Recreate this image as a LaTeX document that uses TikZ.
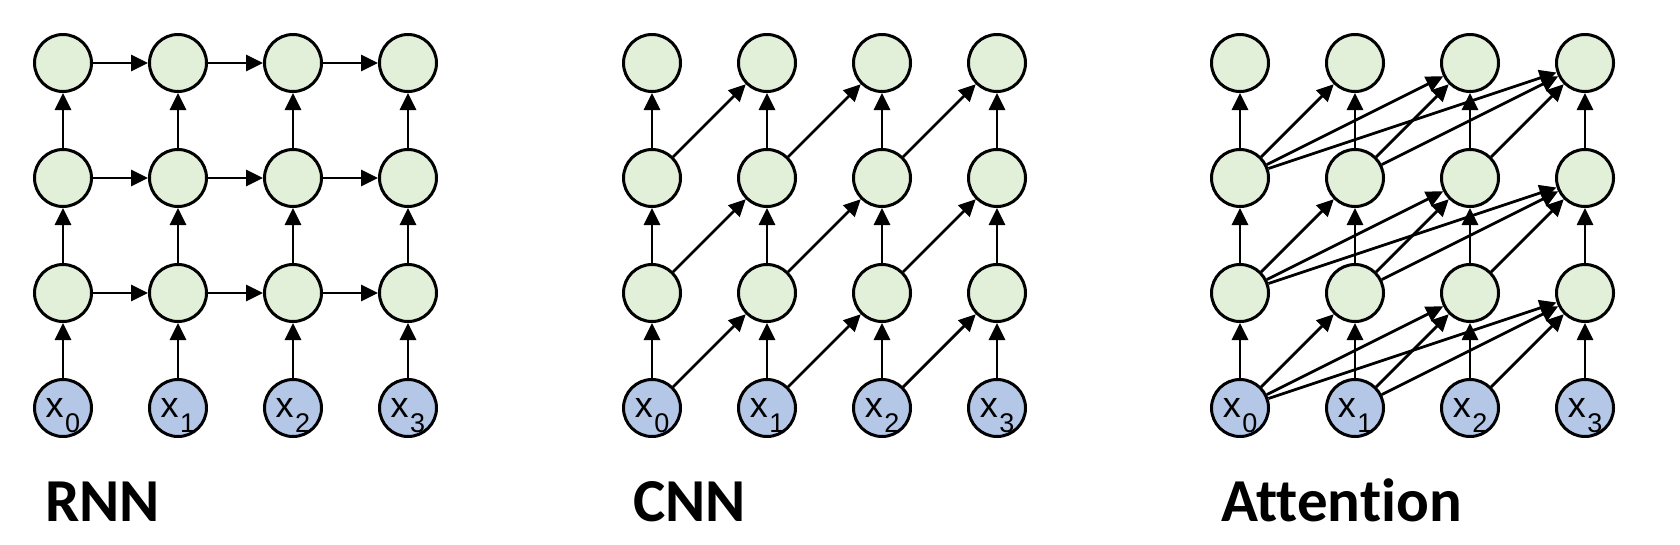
\documentclass[tikz,border=0pt]{standalone}
\usepackage{fontspec}
\setmainfont{Liberation Sans}
\newfontfamily\labfont[Ligatures=NoCommon]{Carlito}
\usetikzlibrary{arrows.meta}
\definecolor{hidfill}{RGB}{226,239,217}
\definecolor{inpfill}{RGB}{180,199,231}
\newcommand\xsub[1]{x\kern1.5pt\raisebox{-15pt}{\fontsize{27}{27}\selectfont #1}}
\begin{document}
\begin{tikzpicture}[x=1pt,y=-1pt,
  hid/.style={circle,draw=black,line width=3pt,fill=hidfill,minimum size=57pt,inner sep=0pt},
  inp/.style={circle,draw=black,line width=3pt,fill=inpfill,minimum size=57pt,inner sep=0pt,
    font=\fontsize{36}{36}\selectfont,text depth=0pt},
  arr/.style={line width=2.8pt,-{Triangle[length=17pt,width=16pt]}},
  title/.style={anchor=base west,inner sep=0pt,font=\labfont\bfseries\fontsize{61}{61}\selectfont}]
\fill[white] (0,0) rectangle (1680,544);
\useasboundingbox (0,0) rectangle (1680,544);
\foreach \p/\ox in {r/63,c/652,a/1240}{
  \foreach \i in {0,...,3}{
    \node[inp] (\p-0-\i) at (\ox+115*\i,408) {\xsub{\i}};
    \foreach \r in {1,2,3}{
      \node[hid] (\p-\r-\i) at (\ox+115*\i,408-115*\r) {};
    }
  }
}
% vertical edges
\foreach \p in {r,c,a}{
  \foreach \r/\s in {0/1,1/2,2/3}{
    \foreach \i in {0,...,3}{
      \draw[arr] (\p-\r-\i) -- (\p-\s-\i);
    }
  }
}
% RNN horizontal edges
\foreach \r in {1,2,3}{
  \foreach \i/\j in {0/1,1/2,2/3}{
    \draw[arr] (r-\r-\i) -- (r-\r-\j);
  }
}
% CNN diagonal edges
\foreach \r/\s in {0/1,1/2,2/3}{
  \foreach \i/\j in {0/1,1/2,2/3}{
    \draw[arr] (c-\r-\i) -- (c-\s-\j);
  }
}
% Attention edges
\foreach \r/\s in {0/1,1/2,2/3}{
  \foreach \i/\j in {0/1,0/2,0/3,1/2,1/3,2/3}{
    \draw[arr] (a-\r-\i) -- (a-\s-\j);
  }
}
\node[title] (tr) at (45,521) {RNN};
\node[title] (tc) at (633,521) {CNN};
\node[title] (ta) at (1221,521) {Attention};
\end{tikzpicture}
\end{document}
